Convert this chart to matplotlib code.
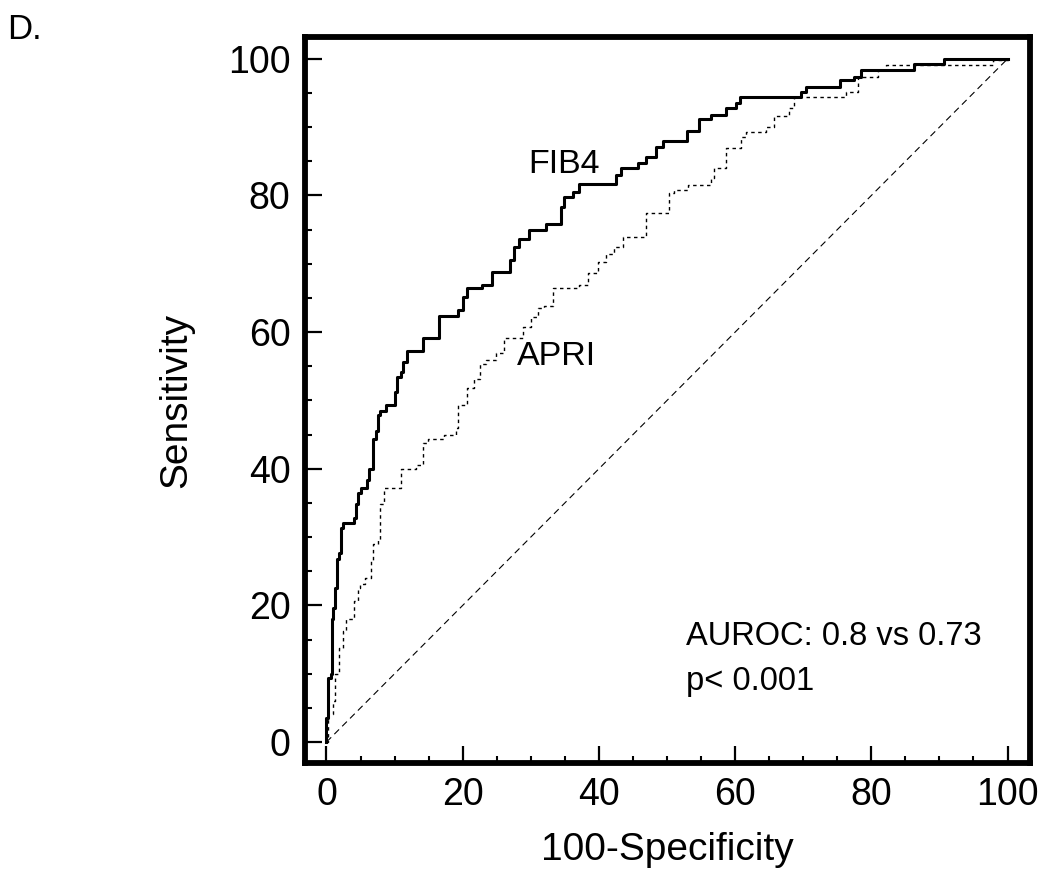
import matplotlib
matplotlib.use("Agg")
import matplotlib.pyplot as plt
from matplotlib.ticker import MultipleLocator

plt.rcParams['font.family'] = ['Liberation Sans', 'DejaVu Sans']

# ROC curve corner points (100-specificity, sensitivity)
fib4_x = [0, 0, 0.15, 0.6, 0.84, 1.0, 1.3, 1.6, 1.8, 2.2, 2.4, 4.0, 4.3, 4.6, 5.0,
          6.0, 6.2, 6.9, 7.2, 7.5, 7.9, 8.7, 10.0, 10.4, 10.9, 11.2, 11.8, 14.1,
          16.5, 19.3, 20.1, 20.7, 22.9, 24.3, 26.9, 27.5, 28.2, 29.7, 32.2, 34.4,
          34.9, 36.2, 37.1, 42.5, 43.2, 45.7, 46.9, 48.4, 49.4, 52.9, 54.7, 56.5,
          58.7, 60.1, 60.7, 69.7, 70.4, 75.4, 77.5, 78.5, 86.2, 90.7, 100]
fib4_y = [0, 3.5, 9.4, 10.0, 18.0, 19.6, 22.6, 26.8, 27.6, 31.4, 32.0, 32.8, 34.9,
          36.4, 37.2, 38.3, 39.9, 44.4, 45.6, 47.8, 48.5, 49.4, 51.2, 53.4, 54.1,
          55.6, 57.3, 59.1, 62.3, 63.2, 65.1, 66.4, 66.9, 68.8, 70.5, 72.4, 73.6,
          74.9, 75.9, 78.3, 79.8, 80.5, 81.7, 83.0, 84.0, 84.8, 85.6, 87.1, 88.0,
          89.4, 91.2, 91.8, 92.8, 93.5, 94.4, 95.2, 95.9, 96.9, 97.4, 98.4, 99.3,
          100, 100]

apri_x = [0, 0.15, 0.9, 1.3, 1.8, 2.4, 2.8, 4.0, 4.6, 4.9, 5.7, 6.5, 6.8, 7.5,
          7.9, 8.4, 10.9, 13.1, 14.1, 14.9, 17.2, 19.0, 19.3, 20.7, 21.6, 22.6,
          23.4, 24.9, 26.0, 28.8, 30.0, 31.0, 31.9, 33.2, 37.1, 38.4, 39.9, 41.0,
          42.2, 43.5, 46.9, 50.3, 51.0, 53.1, 56.5, 56.9, 58.7, 60.9, 61.6, 64.6,
          65.7, 67.9, 68.7, 76.3, 78.1, 81.0, 82.2, 97.9, 100]
apri_y = [0, 4.1, 6.0, 10.0, 13.8, 16.3, 18.0, 20.7, 22.6, 23.2, 24.0, 26.5, 29.0,
          29.5, 34.9, 37.2, 39.9, 40.5, 43.7, 44.4, 44.9, 46.0, 49.3, 51.8, 53.2,
          55.4, 55.9, 57.0, 59.1, 60.7, 62.2, 63.5, 63.8, 66.4, 66.9, 68.6, 70.2,
          71.5, 72.4, 73.9, 77.4, 80.4, 80.8, 81.5, 82.5, 84.0, 86.9, 88.6, 89.3,
          90.0, 91.6, 92.8, 94.4, 95.2, 97.4, 98.4, 99.1, 99.9, 100]

ref_x = [0, 100]
ref_y = [0, 100]

fig = plt.figure(figsize=(10.5, 8.89), dpi=100)
ax = fig.add_axes([304.5 / 1050, 126 / 889, 725.5 / 1050, 726 / 889])

ax.plot(ref_x, ref_y, color='black', lw=0.8, dashes=(6, 4))
ax.plot(apri_x, apri_y, color='black', lw=1.0, dashes=(2.5, 2.5), drawstyle='steps-post')
ax.plot(fib4_x, fib4_y, color='black', lw=2.2, drawstyle='steps-post')

ax.set_xlim(-3.23, 103.3)
ax.set_ylim(-3.07, 103.2)

ax.xaxis.set_major_locator(MultipleLocator(20))
ax.xaxis.set_minor_locator(MultipleLocator(5))
ax.yaxis.set_major_locator(MultipleLocator(20))
ax.yaxis.set_minor_locator(MultipleLocator(5))
ax.tick_params(which='major', direction='in', length=12, width=1.6, labelsize=27, pad=10)
ax.tick_params(which='minor', direction='in', length=5, width=1.5)
for s in ax.spines.values():
    s.set_linewidth(4.2)

ax.set_xlabel('100-Specificity', fontsize=28, labelpad=14)
ax.set_ylabel('Sensitivity', fontsize=28, labelpad=24)

ax.text(34.9, 84.6, 'FIB4', fontsize=24.5, ha='center', va='center')
ax.text(33.7, 56.5, 'APRI', fontsize=24.5, ha='center', va='center')
ax.text(52.8, 15.5, 'AUROC: 0.8 vs 0.73', fontsize=23.5, ha='left', va='center')
ax.text(52.8, 8.9, 'p< 0.001', fontsize=23.5, ha='left', va='center')

fig.text(7 / 1050, 1 - 39 / 889, 'D.', fontsize=25, ha='left', va='baseline')

fig.savefig('out.png', dpi=100)
